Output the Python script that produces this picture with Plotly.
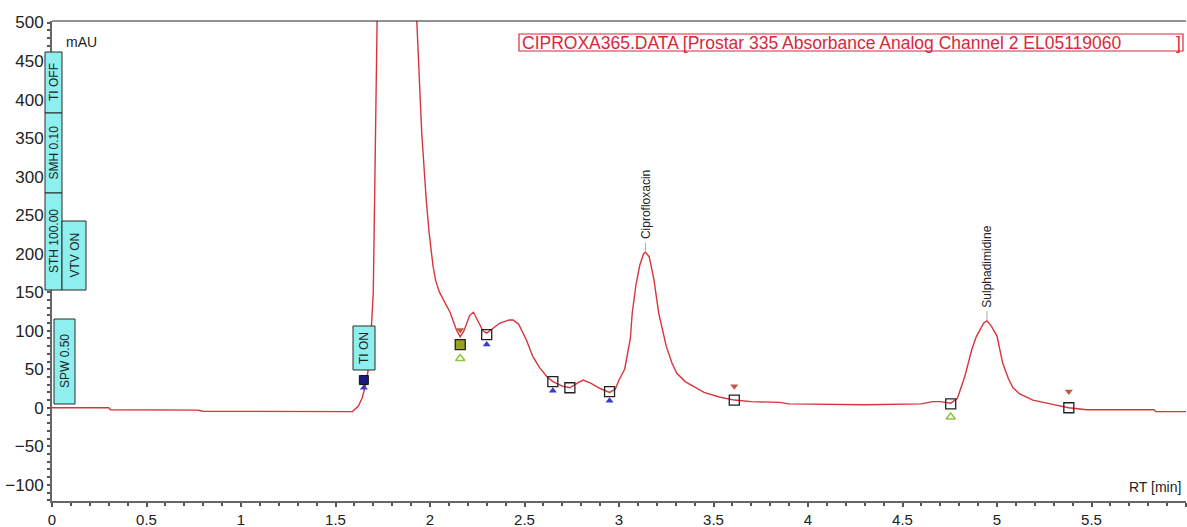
import plotly.graph_objects as go

# ---- data ----
rt = [0.00, 0.30, 0.31, 0.77, 0.80, 1.55, 1.59, 1.62, 1.64, 1.66, 1.68, 1.70, 1.71, 1.72, 1.73,
      1.92, 1.93, 1.94, 1.956, 1.98, 1.995, 2.016, 2.03, 2.05, 2.08, 2.106, 2.14, 2.16, 2.18,
      2.21, 2.23, 2.25, 2.28, 2.30, 2.33, 2.37, 2.42, 2.44, 2.47, 2.51, 2.545, 2.58, 2.62, 2.65,
      2.70, 2.74, 2.78, 2.81, 2.85, 2.90, 2.95, 2.98, 3.00, 3.03, 3.06, 3.07, 3.09, 3.11, 3.13,
      3.14, 3.16, 3.185, 3.21, 3.25, 3.28, 3.305, 3.35, 3.39, 3.45, 3.53, 3.61, 3.70, 3.85, 3.90,
      4.30, 4.60, 4.66, 4.70, 4.755, 4.79, 4.83, 4.866, 4.89, 4.91, 4.93, 4.947, 4.97, 5.00, 5.03,
      5.06, 5.085, 5.12, 5.19, 5.30, 5.38, 5.475, 5.83, 5.84, 6.00]
mau = [0, 0, -2.5, -3, -4.5, -5, -5, 2, 12, 30, 60, 150, 300, 500, 700,
       700, 503, 453, 358, 270, 228, 184, 165, 150, 135, 124, 101, 92, 100,
       120, 124, 115, 100, 97, 103, 110, 114, 114, 108, 88, 66, 52, 40, 34,
       28, 26, 32, 36, 32, 25, 20, 24, 36, 50, 90, 123, 160, 185, 200,
       202, 196, 166, 123, 80, 58, 45, 34, 28, 20, 14, 10, 8, 7, 5,
       4, 5, 8, 8, 6, 12, 41, 75, 92, 101, 110, 113, 106, 93, 58,
       38, 26, 18, 10, 4, 0, -2.6, -2.6, -5, -5]

box_rt = [2.30, 2.65, 2.74, 2.95, 3.61, 4.755, 5.38]
box_mau = [95, 34, 26, 21, 10, 5, 0]
start_rt = [1.65]
start_mau = [36]
olive_rt = [2.16]
olive_mau = [82]
blue_rt = [1.65, 2.30, 2.65, 2.95]
blue_mau = [26, 82, 22, 9]
red_rt = [2.16, 3.61, 5.38]
red_mau = [101, 28, 21]
green_rt = [2.16, 4.755]
green_mau = [64, -12]

peak_names = ["Ciprofloxacin", "Sulphadimidine"]
peak_rt = [3.14, 4.947]
peak_mau = [202, 113]

event_labels = ["TI OFF", "SMH 0.10", "STH 100.00", "VTV ON", "SPW 0.50", "TI ON"]

legend_text = "CIPROXA365.DATA [Prostar 335 Absorbance Analog Channel 2 EL05119060"

# ---- layout geometry (pixels) ----
W, H = 1187, 527
L, R, T, B = 52, 1186, 21, 501
FONT = "Liberation Sans, Arial, sans-serif"


def px(xp):
    return (xp - L) / (R - L)


def py(yp):
    return (B - yp) / (B - T)


fig = go.Figure()
fig.add_trace(go.Scatter(x=rt, y=mau, mode="lines",
                         line=dict(color="#d8343c", width=1.4), hoverinfo="skip"))

mk = dict(mode="markers", hoverinfo="skip", showlegend=False)
fig.add_trace(go.Scatter(x=blue_rt, y=blue_mau, marker=dict(symbol="triangle-up", size=7, color="#3a3ad0"), **mk))
fig.add_trace(go.Scatter(x=red_rt, y=red_mau, marker=dict(symbol="triangle-down", size=7, color="#c0584a"), **mk))
fig.add_trace(go.Scatter(x=green_rt, y=green_mau, marker=dict(symbol="triangle-up-open", size=8, color="#8cc63f", line=dict(width=1.5)), **mk))
fig.add_trace(go.Scatter(x=box_rt, y=box_mau, marker=dict(symbol="square-open", size=10, color="#222", line=dict(width=1.3)), **mk))
fig.add_trace(go.Scatter(x=olive_rt, y=olive_mau, marker=dict(symbol="square", size=10, color="#9aa020", line=dict(width=1.3, color="#222")), **mk))
fig.add_trace(go.Scatter(x=start_rt, y=start_mau, marker=dict(symbol="square", size=9, color="#1a1a80", line=dict(width=1, color="#111")), **mk))

shapes = []
annotations = []

# event boxes (pixel rectangles)
ev_boxes = [(45, 62, 52, 113), (45, 62, 113, 193), (45, 62, 193, 290),
            (62, 86, 221, 290), (54, 75, 319, 404), (353, 375, 326, 370)]
for lab, (x0, x1, y0, y1) in zip(event_labels, ev_boxes):
    shapes.append(dict(type="rect", xref="paper", yref="paper",
                       x0=px(x0), x1=px(x1), y0=py(y1), y1=py(y0),
                       fillcolor="#8ef0ee", line=dict(color="#2a2a2a", width=1), layer="above"))
    annotations.append(dict(xref="paper", yref="paper", x=px((x0 + x1) / 2), y=py((y0 + y1) / 2),
                            xanchor="center", yanchor="middle",
                            text=lab, textangle=-90, showarrow=False,
                            font=dict(family=FONT, size=12, color="#222")))

# peak labels
for name, x, y in zip(peak_names, peak_rt, peak_mau):
    annotations.append(dict(x=x, y=y, xref="x", yref="y", text=name, textangle=-90,
                            showarrow=False, xanchor="center", yanchor="bottom", yshift=11,
                            font=dict(family=FONT, size=12, color="#222")))
    annotations.append(dict(x=x, y=y, xref="x", yref="y", ax=0, ay=-11, text="",
                            showarrow=True, arrowhead=0, arrowwidth=1, arrowcolor="#aaa"))

# legend box
shapes.append(dict(type="rect", xref="paper", yref="paper", x0=px(519), x1=px(1183),
                   y0=py(51), y1=py(34), line=dict(color="#d8283a", width=1.2)))
annotations.append(dict(xref="paper", yref="paper", x=px(520), y=py(42.5), xanchor="left",
                        yanchor="middle", text=legend_text, showarrow=False,
                        font=dict(family=FONT, size=17.5, color="#d8283a")))
annotations.append(dict(xref="paper", yref="paper", x=px(1183), y=py(42.5), xanchor="right",
                        yanchor="middle", text="]", showarrow=False,
                        font=dict(family=FONT, size=17.5, color="#d8283a")))

# axis titles
annotations.append(dict(xref="paper", yref="paper", x=px(64), y=py(42), xanchor="left",
                        yanchor="middle", text="mAU", showarrow=False,
                        font=dict(family=FONT, size=14, color="#222")))
annotations.append(dict(xref="paper", yref="paper", x=px(1183), y=py(487), xanchor="right",
                        yanchor="middle", text="RT [min]", showarrow=False,
                        font=dict(family=FONT, size=14, color="#222")))

# top frame line
shapes.append(dict(type="line", xref="paper", yref="paper", x0=0, x1=1, y0=1, y1=1,
                   line=dict(color="#222", width=1)))

fig.update_layout(
    width=W, height=H,
    margin=dict(l=L, r=W - R, t=T, b=H - B, autoexpand=False),
    paper_bgcolor="white", plot_bgcolor="white",
    showlegend=False,
    shapes=shapes, annotations=annotations,
    xaxis=dict(range=[0, 6], dtick=0.5, tick0=0, showgrid=False, zeroline=False,
               automargin=False,
               showline=True, linecolor="#666", linewidth=2,
               ticks="outside", ticklen=4, tickcolor="#555", tickwidth=1.5,
               minor=dict(dtick=0.1, ticks="outside", ticklen=3, tickcolor="#555"),
               ticklabelstandoff=0,
               tickfont=dict(family=FONT, size=15, color="#222")),
    yaxis=dict(range=[-121, 502], tickvals=[-100, -50, 0, 50, 100, 150, 200, 250, 300, 350, 400, 450, 500],
               showgrid=False, zeroline=False, automargin=False,
               showline=True, linecolor="#666", linewidth=2,
               ticks="outside", ticklen=3, tickcolor="#555", tickwidth=1.5,
               minor=dict(dtick=10, ticks="outside", ticklen=3, tickcolor="#555"),
               ticklabelstandoff=0,
               tickfont=dict(family=FONT, size=17, color="#222")),
)

fig.write_html("out.html")
